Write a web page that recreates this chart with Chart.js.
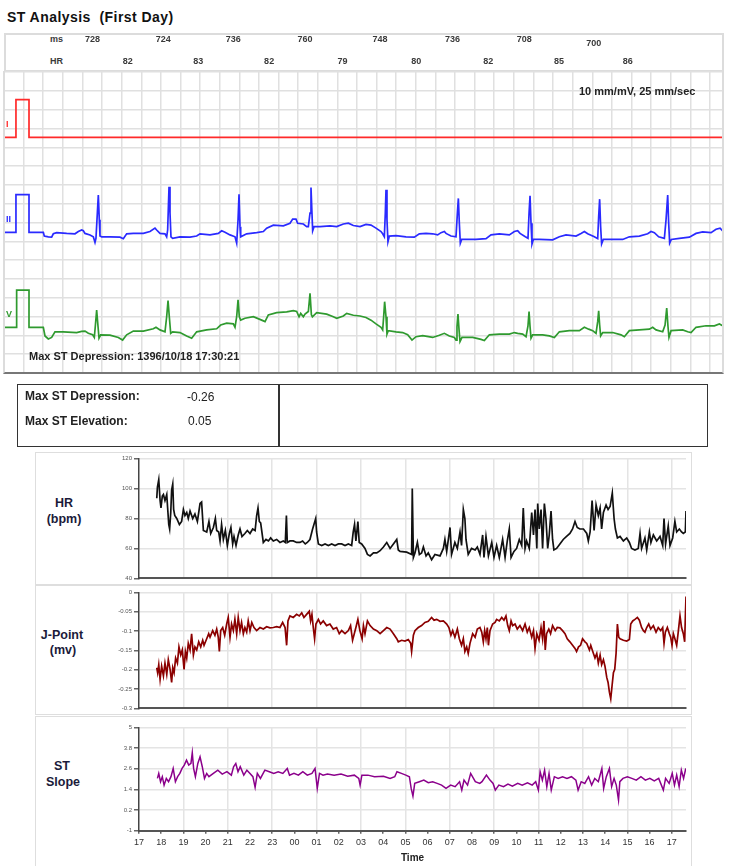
<!DOCTYPE html>
<html>
<head>
<meta charset="utf-8">
<script src="https://cdn.jsdelivr.net/npm/chart.js@4.4.1/dist/chart.umd.min.js"></script>
<style>
  html, body { margin: 0; padding: 0; background: #fff; }
  body { font-family: "Liberation Sans", Arial, sans-serif; }
  #page { position: relative; width: 732px; height: 866px; overflow: hidden; background: #fff; }
  .abs { position: absolute; line-height: 1; white-space: pre; }
  .box { position: absolute; box-sizing: border-box; }
  canvas { position: absolute; }
  .lbl { font-weight: bold; color: #1b1b3a; text-align: center; width: 80px; font-size: 12.5px; }
</style>
</head>
<body>
<div id="page">
  <div class="abs" style="left:7px;top:10px;font-size:14px;font-weight:bold;color:#111;letter-spacing:0.45px;">ST Analysis  (First Day)</div>

  <!-- beat interval / rate header -->
  <div class="box" style="left:4px;top:33px;width:720px;height:39px;border:2px solid #dcdcdc;"></div>
  <div class="abs" style="left:50px;top:34.5px;font-size:9px;font-weight:bold;color:#3a3a3a;">ms</div>
  <div class="abs" style="left:50px;top:56.5px;font-size:9px;font-weight:bold;color:#3a3a3a;">HR</div>

  <canvas id="ecg" width="719" height="340" style="left:4px;top:33px;"></canvas>
  <div class="box" style="left:3px;top:71px;width:721px;height:303px;border-left:2px solid #dcdcdc;border-right:2px solid #dcdcdc;border-bottom:2px solid #777;"></div>
  <div class="abs" style="left:579px;top:85.5px;font-size:11px;font-weight:bold;color:#222;">10 mm/mV, 25 mm/sec</div>
  <div class="abs" id="maxDepStamp" style="left:29px;top:350.5px;font-size:11px;font-weight:bold;color:#222;"></div>

  <!-- summary -->
  <div class="box" style="left:17px;top:384px;width:691px;height:63px;border:1.5px solid #333;"></div>
  <div class="box" style="left:278px;top:384px;width:1.5px;height:63px;background:#333;"></div>
  <div class="abs" style="left:25px;top:390px;font-size:12px;font-weight:bold;color:#222;">Max ST Depression:</div>
  <div class="abs" id="depVal" style="left:187px;top:391px;font-size:12px;color:#222;"></div>
  <div class="abs" style="left:25px;top:415px;font-size:12px;font-weight:bold;color:#222;">Max ST Elevation:</div>
  <div class="abs" id="elevVal" style="left:188px;top:415px;font-size:12px;color:#222;"></div>

  <!-- trend panels -->
  <div class="box" style="left:35px;top:452px;width:657px;height:133px;border:1.5px solid #dedede;"></div>
  <div class="abs lbl" style="left:24px;top:497px;">HR</div>
  <div class="abs lbl" style="left:24px;top:513px;">(bpm)</div>
  <canvas id="hr" width="657" height="131" style="left:35px;top:453px;"></canvas>

  <div class="box" style="left:35px;top:585px;width:657px;height:130px;border:1.5px solid #dedede;"></div>
  <div class="abs lbl" style="left:22px;top:629px;">J-Point</div>
  <div class="abs lbl" style="left:23px;top:644px;">(mv)</div>
  <canvas id="jp" width="657" height="128" style="left:35px;top:586px;"></canvas>

  <div class="box" style="left:35px;top:716px;width:657px;height:160px;border:1.5px solid #dedede;"></div>
  <div class="abs lbl" style="left:22px;top:760px;">ST</div>
  <div class="abs lbl" style="left:23px;top:776px;">Slope</div>
  <canvas id="st" width="657" height="150" style="left:35px;top:716px;"></canvas>
</div>

<script>
// ---- ECG strip: [seconds, mV relative to lead baseline] ----
const ecgLeadI = [[0.01,0],[0.122,0],[0.122,1.0],[0.255,1.0],[0.255,0],[7.333,0]];
const ecgLeadII = [
  [0.01,0],[0.122,0],[0.122,1.0],[0.255,1.0],[0.255,0],[0.401,0],[0.411,-0.10],[0.452,-0.12],[0.486,-0.13],
  [0.503,-0.04],[0.537,-0.01],[0.639,-0.03],[0.724,-0.04],[0.758,0.02],[0.792,0.06],[0.809,0.04],[0.826,-0.03],
  [0.877,-0.07],[0.911,-0.12],[0.928,-0.27],[0.938,-0.16],[0.952,0.51],[0.962,0.99],[0.972,0.33],[0.979,-0.10],
  [0.996,-0.12],[1.081,-0.12],[1.183,-0.13],[1.217,-0.17],[1.251,-0.04],[1.319,-0.03],[1.421,-0.03],[1.489,0.02],
  [1.540,0.11],[1.557,0.06],[1.591,-0.03],[1.642,-0.04],[1.659,-0.12],[1.669,0.06],[1.683,1.21],[1.693,0.51],
  [1.703,-0.12],[1.720,-0.16],[1.795,-0.12],[1.897,-0.13],[1.965,-0.10],[1.999,-0.04],[2.101,-0.07],[2.186,-0.03],
  [2.220,0.04],[2.254,0],[2.305,-0.07],[2.356,-0.12],[2.373,-0.29],[2.387,0.33],[2.397,1.01],[2.407,0.15],
  [2.414,-0.12],[2.475,-0.04],[2.577,-0.01],[2.645,0.02],[2.679,0.11],[2.747,0.19],[2.849,0.17],[2.917,0.24],
  [2.944,0.35],[2.978,0.35],[2.995,0.24],[3.053,0.22],[3.087,0.15],[3.104,0.15],[3.121,0.51],[3.131,1.19],
  [3.141,0.51],[3.148,0.04],[3.162,0.15],[3.223,0.15],[3.325,0.17],[3.393,0.15],[3.461,0.22],[3.512,0.24],
  [3.563,0.18],[3.631,0.15],[3.692,0.21],[3.743,0.19],[3.794,0.11],[3.845,0.02],[3.862,-0.04],[3.879,-0.12],
  [3.889,0.51],[3.896,1.13],[3.906,0.33],[3.916,-0.25],[3.930,-0.10],[3.998,-0.09],[4.100,-0.12],[4.185,-0.13],
  [4.236,-0.04],[4.304,-0.03],[4.372,-0.04],[4.423,-0.07],[4.457,-0.01],[4.491,0.02],[4.508,-0.03],[4.559,-0.10],
  [4.610,-0.12],[4.624,0.51],[4.634,0.90],[4.644,0.24],[4.654,-0.29],[4.668,-0.19],[4.712,-0.19],[4.814,-0.19],
  [4.916,-0.17],[4.967,-0.07],[5.052,-0.04],[5.154,-0.07],[5.205,0.02],[5.239,0.04],[5.263,-0.03],[5.317,-0.12],
  [5.344,-0.16],[5.355,0.51],[5.365,0.97],[5.375,0.24],[5.385,-0.31],[5.399,-0.19],[5.460,-0.19],[5.596,-0.20],
  [5.664,-0.12],[5.732,-0.07],[5.834,-0.10],[5.885,-0.03],[5.919,0.02],[5.953,-0.04],[6.021,-0.12],[6.055,-0.17],
  [6.065,0.42],[6.075,0.88],[6.085,0.15],[6.095,-0.31],[6.112,-0.19],[6.208,-0.19],[6.310,-0.19],[6.378,-0.12],
  [6.480,-0.10],[6.565,-0.04],[6.599,0.02],[6.633,-0.01],[6.677,-0.12],[6.735,-0.16],[6.752,0.33],[6.769,0.99],
  [6.779,0.24],[6.789,-0.29],[6.806,-0.19],[6.888,-0.16],[6.990,-0.13],[7.058,-0.03],[7.126,0.01],[7.211,-0.01],
  [7.262,0.08],[7.303,0.11],[7.337,0.02]
];
const ecgLeadV = [
  [0.01,0],[0.129,0],[0.129,0.99],[0.255,0.99],[0.255,0],[0.401,0],[0.418,-0.23],[0.452,-0.31],[0.486,-0.27],
  [0.520,-0.12],[0.605,-0.12],[0.741,-0.14],[0.792,-0.11],[0.826,-0.10],[0.860,-0.16],[0.904,-0.20],[0.921,-0.27],
  [0.931,0.02],[0.945,0.46],[0.959,0.02],[0.969,-0.29],[0.986,-0.20],[1.081,-0.21],[1.166,-0.27],[1.210,-0.34],
  [1.251,-0.20],[1.319,-0.10],[1.421,-0.10],[1.523,-0.04],[1.550,0],[1.591,-0.07],[1.642,-0.12],[1.659,0.28],
  [1.673,0.71],[1.686,0.28],[1.700,-0.16],[1.720,-0.12],[1.795,-0.14],[1.863,-0.23],[1.914,-0.29],[1.965,-0.12],
  [2.067,-0.07],[2.169,-0.04],[2.210,0.06],[2.271,0.11],[2.339,0.09],[2.356,0],[2.373,0.28],[2.387,0.73],
  [2.400,0.28],[2.414,0.19],[2.458,0.24],[2.543,0.28],[2.628,0.19],[2.662,0.15],[2.696,0.33],[2.781,0.39],
  [2.883,0.41],[2.951,0.44],[2.985,0.42],[3.009,0.28],[3.026,0.37],[3.053,0.28],[3.070,0.35],[3.104,0.42],
  [3.121,0.90],[3.135,0.33],[3.145,0.28],[3.189,0.39],[3.291,0.35],[3.359,0.28],[3.393,0.24],[3.461,0.30],
  [3.495,0.37],[3.563,0.32],[3.631,0.30],[3.692,0.26],[3.743,0.19],[3.794,0.09],[3.845,0],[3.862,-0.07],
  [3.872,0.28],[3.882,0.68],[3.896,0.28],[3.906,-0.18],[3.919,-0.09],[3.998,-0.12],[4.066,-0.14],[4.117,-0.20],
  [4.161,-0.34],[4.202,-0.25],[4.270,-0.22],[4.372,-0.27],[4.440,-0.21],[4.491,-0.16],[4.542,-0.23],[4.593,-0.27],
  [4.610,-0.34],[4.620,0.02],[4.630,0.35],[4.641,-0.07],[4.651,-0.38],[4.671,-0.27],[4.780,-0.27],[4.865,-0.32],
  [4.899,-0.35],[4.950,-0.20],[5.052,-0.18],[5.154,-0.18],[5.205,-0.14],[5.239,-0.16],[5.290,-0.18],[5.324,-0.25],
  [5.344,0.04],[5.355,0.42],[5.365,0.02],[5.375,-0.29],[5.392,-0.20],[5.494,-0.20],[5.562,-0.23],[5.613,-0.27],
  [5.664,-0.12],[5.766,-0.09],[5.868,-0.09],[5.919,0],[5.963,-0.05],[6.004,-0.09],[6.038,-0.16],[6.055,0.15],
  [6.065,0.44],[6.075,0.06],[6.085,-0.23],[6.106,-0.14],[6.208,-0.14],[6.293,-0.20],[6.327,-0.25],[6.378,-0.09],
  [6.480,-0.07],[6.582,-0.05],[6.616,0],[6.650,-0.07],[6.718,-0.12],[6.742,0.06],[6.759,0.51],[6.772,0.02],
  [6.782,-0.27],[6.803,-0.09],[6.922,-0.07],[6.973,-0.12],[7.007,-0.14],[7.058,0],[7.160,0.04],[7.245,0.04],
  [7.296,0.09],[7.330,0.04]
];
const rPeakTimes = [0.962, 1.683, 2.397, 3.131, 3.896, 4.634, 5.365, 6.075, 6.769];
const rrIntervalsMs = [728, 724, 736, 760, 748, 736, 708, 700];
const beatRates = [82, 83, 82, 79, 80, 82, 85, 86];

// ---- summary values ----
const maxStDepression = -0.26;
const maxStElevation = 0.05;
const maxDepressionStamp = '1396/10/18 17:30:21';

// ---- 24h trends: [hours after 17:00, value] ----
const firstHourLabel = 17;
const hourTicks = [0,1,2,3,4,5,6,7,8,9,10,11,12,13,14,15,16,17,18,19,20,21,22,23,24];
const hrTicks = [40, 60, 80, 100, 120];
const jPointTicks = [-0.3, -0.25, -0.2, -0.15, -0.1, -0.05, 0];
const stSlopeTicks = [-1, 0.2, 1.4, 2.6, 3.8, 5];

const hrSeries = [
  [0.80,93.5],[0.83,101],[0.89,106],[0.95,92],[0.99,87],[1.05,95],[1.10,96],[1.17,92],[1.25,96],[1.29,87],
  [1.34,76],[1.38,73],[1.43,84],[1.47,99],[1.52,103],[1.56,86],[1.61,82],[1.70,80],[1.82,76],[1.92,78],
  [2.00,86],[2.07,82],[2.15,84],[2.22,80],[2.30,85],[2.42,80],[2.52,83],[2.63,78],[2.75,90],[2.82,91],
  [2.90,72],[3.05,71],[3.15,78],[3.23,70],[3.35,74],[3.44,80],[3.50,72],[3.59,71],[3.65,65],[3.72,76],
  [3.80,66],[3.89,72],[3.98,62],[4.07,70],[4.14,74],[4.22,63],[4.28,68],[4.37,62],[4.47,69],[4.55,73],
  [4.64,68],[4.77,70],[4.88,72],[5.00,70],[5.12,73],[5.23,72],[5.30,82],[5.36,87],[5.42,78],[5.48,77],
  [5.60,64],[5.72,66],[5.83,65],[5.93,67],[6.05,65],[6.20,66],[6.35,64],[6.50,65],[6.59,64],[6.64,82],
  [6.68,64],[6.80,65],[6.95,65],[7.10,64],[7.25,64],[7.37,65],[7.49,63],[7.58,64],[7.70,66],[7.82,73],
  [7.90,77],[7.96,80],[8.00,71],[8.08,63],[8.23,62],[8.38,63],[8.53,62],[8.68,63],[8.83,62],[8.98,63],
  [9.13,63],[9.28,62],[9.43,63],[9.58,62],[9.65,71],[9.71,76],[9.77,65],[9.86,78],[9.92,64],[10.03,63],
  [10.18,60],[10.29,56],[10.41,55],[10.56,57],[10.71,57],[10.86,58.5],[11.01,61],[11.16,64],[11.31,60],[11.46,63],
  [11.61,66],[11.68,59],[11.76,58],[12.06,57.5],[12.28,56],[12.31,100],[12.36,54],[12.43,57],[12.54,64],[12.63,56],
  [12.73,57],[12.81,61],[12.93,55],[13.03,57],[13.18,52.5],[13.33,56],[13.56,55],[13.71,60],[13.78,66],[13.86,58],
  [14.01,74],[14.08,56],[14.23,64],[14.34,60],[14.46,71],[14.53,62],[14.61,86],[14.68,80],[14.73,66],[14.83,56],
  [14.98,60],[15.14,59],[15.24,61],[15.36,56],[15.48,69],[15.54,54],[15.63,68],[15.74,55],[15.89,64],[15.99,54],
  [16.11,62],[16.23,54],[16.38,66],[16.49,54],[16.59,65],[16.68,73],[16.76,54],[16.89,58],[17.01,60],[17.13,66],
  [17.24,62],[17.31,87],[17.39,60],[17.46,65],[17.58,60],[17.69,84],[17.77,69],[17.84,86],[17.92,60],[17.96,90],
  [18.03,73],[18.11,86],[18.18,60],[18.26,90],[18.33,80],[18.41,60],[18.48,69],[18.56,85],[18.63,66],[18.69,59],
  [18.81,60],[18.96,63],[19.11,66],[19.26,68],[19.41,70],[19.53,73],[19.64,78],[19.74,74],[19.86,73],[20.02,73],
  [20.17,70],[20.24,65],[20.32,71],[20.41,92],[20.50,72],[20.59,89],[20.69,82],[20.77,87],[20.84,73],[20.92,84],
  [21.04,89],[21.13,86],[21.22,88],[21.32,97],[21.40,80],[21.46,73],[21.55,67],[21.67,68],[21.82,65],[21.97,67],
  [22.09,64],[22.19,60],[22.34,59],[22.49,60],[22.57,70],[22.64,60],[22.79,67],[22.87,59],[22.99,71],[23.06,64],
  [23.17,69],[23.32,65],[23.47,68],[23.59,62],[23.65,80],[23.72,63],[23.84,75],[23.92,62],[24.04,67],[24.14,78],
  [24.22,71],[24.34,73],[24.44,71],[24.52,70],[24.61,71],[24.64,85]
];

const jPointSeries = [
  [0.80,-0.195],[0.84,-0.208],[0.89,-0.187],[0.95,-0.225],[1.02,-0.191],[1.10,-0.216],[1.17,-0.183],[1.25,-0.212],
  [1.32,-0.174],[1.40,-0.199],[1.47,-0.233],[1.52,-0.195],[1.58,-0.208],[1.65,-0.170],[1.73,-0.183],[1.80,-0.141],
  [1.88,-0.162],[1.95,-0.149],[2.03,-0.199],[2.09,-0.153],[2.15,-0.170],[2.22,-0.132],[2.30,-0.149],[2.37,-0.107],
  [2.45,-0.162],[2.52,-0.141],[2.60,-0.149],[2.69,-0.128],[2.78,-0.141],[2.87,-0.124],[2.93,-0.137],[3.05,-0.120],
  [3.14,-0.107],[3.20,-0.116],[3.32,-0.099],[3.42,-0.111],[3.50,-0.095],[3.57,-0.116],[3.62,-0.153],[3.68,-0.099],
  [3.77,-0.091],[3.86,-0.111],[3.95,-0.082],[4.02,-0.065],[4.10,-0.116],[4.17,-0.082],[4.25,-0.099],[4.32,-0.070],
  [4.40,-0.107],[4.47,-0.065],[4.55,-0.099],[4.62,-0.078],[4.70,-0.107],[4.77,-0.091],[4.85,-0.103],[4.92,-0.074],
  [5.00,-0.099],[5.08,-0.078],[5.18,-0.091],[5.30,-0.099],[5.45,-0.091],[5.60,-0.095],[5.75,-0.089],[5.90,-0.092],
  [6.05,-0.091],[6.20,-0.089],[6.35,-0.091],[6.47,-0.078],[6.58,-0.091],[6.65,-0.137],[6.71,-0.074],[6.80,-0.061],
  [6.95,-0.065],[7.10,-0.057],[7.22,-0.061],[7.33,-0.053],[7.43,-0.065],[7.55,-0.057],[7.67,-0.049],[7.73,-0.074],
  [7.79,-0.057],[7.85,-0.091],[7.91,-0.120],[7.97,-0.082],[8.08,-0.070],[8.18,-0.082],[8.30,-0.074],[8.45,-0.086],
  [8.60,-0.082],[8.75,-0.095],[8.90,-0.091],[9.02,-0.107],[9.13,-0.099],[9.28,-0.107],[9.43,-0.099],[9.53,-0.086],
  [9.62,-0.124],[9.68,-0.111],[9.77,-0.091],[9.86,-0.070],[9.95,-0.099],[10.05,-0.120],[10.11,-0.086],[10.18,-0.107],
  [10.29,-0.074],[10.41,-0.086],[10.56,-0.095],[10.71,-0.099],[10.86,-0.107],[11.01,-0.099],[11.16,-0.091],[11.31,-0.095],
  [11.46,-0.107],[11.61,-0.120],[11.68,-0.128],[11.83,-0.124],[11.98,-0.126],[12.13,-0.122],[12.24,-0.132],[12.28,-0.153],
  [12.36,-0.111],[12.43,-0.099],[12.58,-0.091],[12.73,-0.086],[12.88,-0.078],[13.03,-0.075],[13.18,-0.065],[13.29,-0.072],
  [13.41,-0.070],[13.56,-0.075],[13.71,-0.074],[13.86,-0.082],[13.96,-0.091],[14.05,-0.111],[14.13,-0.099],[14.23,-0.116],
  [14.34,-0.095],[14.43,-0.120],[14.53,-0.137],[14.61,-0.120],[14.68,-0.153],[14.76,-0.141],[14.83,-0.158],[14.91,-0.132],
  [15.03,-0.107],[15.14,-0.116],[15.24,-0.095],[15.36,-0.091],[15.44,-0.103],[15.51,-0.128],[15.57,-0.099],[15.63,-0.120],
  [15.69,-0.091],[15.74,-0.137],[15.81,-0.099],[15.93,-0.082],[16.04,-0.078],[16.11,-0.070],[16.23,-0.074],[16.34,-0.065],
  [16.44,-0.072],[16.53,-0.061],[16.61,-0.086],[16.68,-0.099],[16.76,-0.074],[16.83,-0.086],[16.94,-0.082],[17.04,-0.095],
  [17.16,-0.086],[17.28,-0.099],[17.39,-0.082],[17.49,-0.103],[17.58,-0.091],[17.69,-0.116],[17.77,-0.099],[17.84,-0.145],
  [17.92,-0.107],[18.02,-0.124],[18.11,-0.091],[18.18,-0.120],[18.24,-0.074],[18.30,-0.149],[18.36,-0.107],[18.46,-0.095],
  [18.54,-0.107],[18.63,-0.086],[18.75,-0.099],[18.84,-0.091],[18.96,-0.092],[19.08,-0.099],[19.19,-0.107],[19.29,-0.120],
  [19.41,-0.128],[19.53,-0.137],[19.64,-0.145],[19.71,-0.153],[19.80,-0.141],[19.89,-0.137],[19.98,-0.120],[20.09,-0.128],
  [20.17,-0.132],[20.29,-0.149],[20.35,-0.137],[20.44,-0.153],[20.54,-0.170],[20.62,-0.158],[20.69,-0.183],[20.77,-0.162],
  [20.84,-0.187],[20.92,-0.174],[20.99,-0.191],[21.07,-0.220],[21.13,-0.233],[21.19,-0.258],[21.25,-0.275],[21.31,-0.241],
  [21.37,-0.208],[21.43,-0.199],[21.49,-0.158],[21.55,-0.082],[21.61,-0.116],[21.67,-0.120],[21.82,-0.124],[21.97,-0.126],
  [22.09,-0.122],[22.15,-0.082],[22.24,-0.074],[22.34,-0.070],[22.45,-0.065],[22.54,-0.072],[22.64,-0.091],[22.72,-0.099],
  [22.79,-0.103],[22.87,-0.091],[22.96,-0.082],[23.05,-0.095],[23.17,-0.086],[23.29,-0.103],[23.39,-0.091],[23.50,-0.099],
  [23.59,-0.091],[23.65,-0.132],[23.71,-0.103],[23.80,-0.091],[23.89,-0.107],[23.95,-0.116],[24.01,-0.137],[24.07,-0.107],
  [24.14,-0.120],[24.22,-0.137],[24.29,-0.103],[24.37,-0.061],[24.44,-0.091],[24.52,-0.107],[24.58,-0.128],[24.61,-0.065],
  [24.64,-0.011]
];

const stSlopeSeries = [
  [0.83,2.04],[0.89,2.33],[0.97,1.85],[1.05,2.14],[1.13,1.65],[1.23,2.04],[1.33,1.85],[1.44,2.14],[1.54,2.62],[1.64,1.85],
  [1.74,2.14],[1.84,2.33],[1.94,2.62],[2.04,2.81],[2.14,3.10],[2.24,2.81],[2.34,2.91],[2.40,3.53],[2.46,2.62],[2.54,2.14],
  [2.65,2.91],[2.75,3.30],[2.85,2.72],[2.95,2.04],[3.05,2.33],[3.15,2.14],[3.35,2.33],[3.55,2.52],[3.75,2.29],[3.96,2.43],
  [4.16,2.23],[4.26,2.72],[4.36,2.91],[4.46,2.43],[4.56,2.72],[4.72,2.23],[4.86,2.52],[5.00,2.33],[5.13,2.14],[5.23,1.52],
  [5.33,2.33],[5.47,2.04],[5.67,2.52],[5.87,2.43],[6.07,2.33],[6.27,2.43],[6.48,2.33],[6.68,2.62],[6.78,2.23],[6.98,2.33],
  [7.18,2.23],[7.38,2.43],[7.58,2.23],[7.79,2.33],[7.93,2.62],[8.03,1.46],[8.13,2.33],[8.29,2.23],[8.49,2.29],[8.79,2.23],
  [9.10,2.29],[9.40,2.17],[9.70,2.23],[9.90,2.04],[9.96,1.65],[10.04,2.23],[10.31,2.23],[10.61,2.14],[11.01,2.17],[11.31,2.04],
  [11.52,2.14],[11.62,2.43],[11.82,2.33],[12.02,2.23],[12.18,2.14],[12.26,1.46],[12.34,1.01],[12.42,1.75],[12.63,1.85],[12.83,1.94],
  [13.03,1.79],[13.23,1.85],[13.43,1.75],[13.63,1.65],[13.83,1.46],[14.04,1.65],[14.24,1.56],[14.44,1.85],[14.54,1.36],[14.64,1.94],
  [14.80,1.65],[14.94,2.33],[15.15,1.85],[15.35,1.75],[15.45,1.85],[15.65,2.23],[15.81,1.94],[15.95,1.75],[16.05,1.36],[16.21,1.65],
  [16.42,1.56],[16.62,1.71],[16.82,1.59],[17.06,1.75],[17.26,1.65],[17.50,1.79],[17.71,1.65],[17.87,1.85],[17.99,1.36],[18.07,2.43],
  [18.17,1.94],[18.27,2.52],[18.37,1.56],[18.47,2.33],[18.57,1.36],[18.71,2.14],[18.88,2.04],[19.08,2.14],[19.28,2.04],[19.48,2.14],
  [19.68,1.94],[19.78,1.36],[19.92,1.85],[20.08,1.75],[20.25,2.14],[20.39,1.65],[20.53,2.04],[20.69,1.85],[20.85,2.62],[20.93,1.46],
  [21.05,2.14],[21.19,2.62],[21.29,1.56],[21.40,2.04],[21.50,1.65],[21.60,0.78],[21.66,1.85],[21.80,2.04],[22.00,2.14],[22.20,2.04],
  [22.40,1.94],[22.61,2.14],[22.81,1.94],[23.01,2.04],[23.21,1.90],[23.41,2.04],[23.62,1.36],[23.72,2.04],[23.88,1.75],[24.02,2.33],
  [24.12,1.65],[24.22,2.23],[24.33,1.56],[24.43,2.52],[24.53,2.04],[24.63,2.62]
];

// ---- layout constants (chart geometry) ----
const LEAD_BASE = { I: 6.265, II: 3.74, V: 1.215 }; // vertical offsets of each lead on the strip, mV
const STRIP_SECONDS = 7.333;
const TREND_HOURS = 24.64;
const FONT = '"Liberation Sans", Arial, sans-serif';

Chart.defaults.font.family = FONT;
Chart.defaults.animation = false;

document.getElementById('maxDepStamp').textContent = 'Max ST Depression: ' + maxDepressionStamp;
document.getElementById('depVal').textContent = maxStDepression.toFixed(2);
document.getElementById('elevVal').textContent = maxStElevation.toFixed(2);

const fmtNum = v => String(Number(Number(v).toFixed(2)));
const toXY = (arr, off = 0) => arr.map(([x, y]) => ({ x, y: y + off }));

// header labels + lead names drawn from the strip's own scales
const stripLabels = {
  id: 'stripLabels',
  afterDraw(chart) {
    const { ctx, scales: { x, y } } = chart;
    ctx.save();
    ctx.font = 'bold 9px ' + FONT;
    ctx.fillStyle = '#3a3a3a';
    ctx.textAlign = 'center';
    ctx.textBaseline = 'middle';
    rrIntervalsMs.forEach((ms, i) => {
      // the last interval label sits a little lower in the header row
      const row = i === rrIntervalsMs.length - 1 ? 10.5 : 6.5;
      ctx.fillText(String(ms), x.getPixelForValue(rPeakTimes[i] - 0.06), row);
    });
    beatRates.forEach((b, i) => {
      const mid = (rPeakTimes[i] + rPeakTimes[i + 1]) / 2;
      ctx.fillText(String(b), x.getPixelForValue(mid - 0.06), 28.5);
    });
    ctx.textAlign = 'left';
    [['I', LEAD_BASE.I, '#ff2a2a'], ['II', LEAD_BASE.II, '#2a2aff'], ['V', LEAD_BASE.V, '#2f9a2f']].forEach(([t, base, c]) => {
      ctx.fillStyle = c;
      ctx.fillText(t, 2, y.getPixelForValue(base + 0.35));
    });
    ctx.restore();
  }
};

const stripGridTicks = [];
for (let k = 0; k * 0.2 <= STRIP_SECONDS + 1e-9; k++) stripGridTicks.push(+(k * 0.2).toFixed(1));
const stripMvTicks = [];
for (let k = 0; k <= 16; k++) stripMvTicks.push(k * 0.5);

new Chart(document.getElementById('ecg'), {
  type: 'line',
  data: {
    datasets: [
      { data: toXY(ecgLeadI, LEAD_BASE.I), borderColor: '#ff2a2a', borderWidth: 1.7 },
      { data: toXY(ecgLeadII, LEAD_BASE.II), borderColor: '#2a2aff', borderWidth: 1.7 },
      { data: toXY(ecgLeadV, LEAD_BASE.V), borderColor: '#2f9a2f', borderWidth: 1.7 }
    ]
  },
  options: {
    responsive: false,
    events: [],
    layout: { padding: { top: 39, left: 0, right: 0, bottom: 0 } },
    elements: { point: { radius: 0 }, line: { tension: 0 } },
    plugins: { legend: { display: false }, tooltip: { enabled: false } },
    scales: {
      x: {
        type: 'linear', min: 0, max: STRIP_SECONDS,
        afterBuildTicks: ax => { ax.ticks = stripGridTicks.map(v => ({ value: v })); },
        ticks: { display: false },
        grid: { color: '#e0e0e0', lineWidth: 1.5, drawTicks: false },
        border: { display: false },
        afterFit: s => { s.height = 0; }
      },
      y: {
        type: 'linear', min: 0, max: 8,
        afterBuildTicks: ax => { ax.ticks = stripMvTicks.map(v => ({ value: v })); },
        ticks: { display: false },
        grid: { color: '#e0e0e0', lineWidth: 1.5, drawTicks: false },
        border: { display: false },
        afterFit: s => { s.width = 0; }
      }
    }
  },
  plugins: [stripLabels]
});

function trendChart(id, series, color, yTicks, opts) {
  return new Chart(document.getElementById(id), {
    type: 'line',
    data: { datasets: [{ data: toXY(series), borderColor: color, borderWidth: opts.lineWidth }] },
    options: {
      responsive: false,
      events: [],
      layout: { padding: { top: opts.padTop, right: 6, left: 0, bottom: 0 } },
      elements: { point: { radius: 0 }, line: { tension: 0 } },
      plugins: { legend: { display: false }, tooltip: { enabled: false } },
      scales: {
        x: {
          type: 'linear', min: 0, max: TREND_HOURS,
          afterBuildTicks: ax => { ax.ticks = hourTicks.map(v => ({ value: v })); },
          ticks: {
            display: !!opts.showTime, autoSkip: false, maxRotation: 0, padding: 3,
            font: { size: 9 }, color: '#333',
            callback: v => String((firstHourLabel + v) % 24).padStart(2, '0')
          },
          grid: {
            color: c => (c.tick && c.tick.value > 0 && c.tick.value % 2 === 0) ? '#e4e4e4' : 'rgba(0,0,0,0)',
            lineWidth: 1.5, drawTicks: !!opts.showTime, tickLength: 3, tickColor: '#666'
          },
          border: { display: true, color: '#555', width: 2 },
          title: { display: !!opts.showTime, text: 'Time', color: '#222', font: { size: 10, weight: 'bold' }, padding: { top: 0, bottom: 2 } },
          afterFit: s => { s.height = opts.xHeight; }
        },
        y: {
          type: 'linear', min: yTicks[0], max: yTicks[yTicks.length - 1],
          afterBuildTicks: ax => { ax.ticks = yTicks.map(v => ({ value: v })); },
          ticks: { font: { size: 6 }, color: '#555', padding: 2, callback: v => fmtNum(v) },
          grid: {
            color: c => (c.tick && c.tick.value !== yTicks[0]) ? '#e4e4e4' : 'rgba(0,0,0,0)',
            lineWidth: 1.5, drawTicks: true, tickLength: 5, tickColor: '#666'
          },
          border: { display: true, color: '#444', width: 1.5 },
          afterFit: s => { s.width = 104; }
        }
      }
    }
  });
}

trendChart('hr', hrSeries, '#111111', hrTicks, { padTop: 4.3, xHeight: 3, lineWidth: 1.7 });
trendChart('jp', jPointSeries, '#8b0000', jPointTicks, { padTop: 6.3, xHeight: 2.3, lineWidth: 1.7 });
trendChart('st', stSlopeSeries, '#8b008b', stSlopeTicks, { padTop: 11.5, xHeight: 35.3, showTime: true, lineWidth: 1.5 });
</script>
</body>
</html>
